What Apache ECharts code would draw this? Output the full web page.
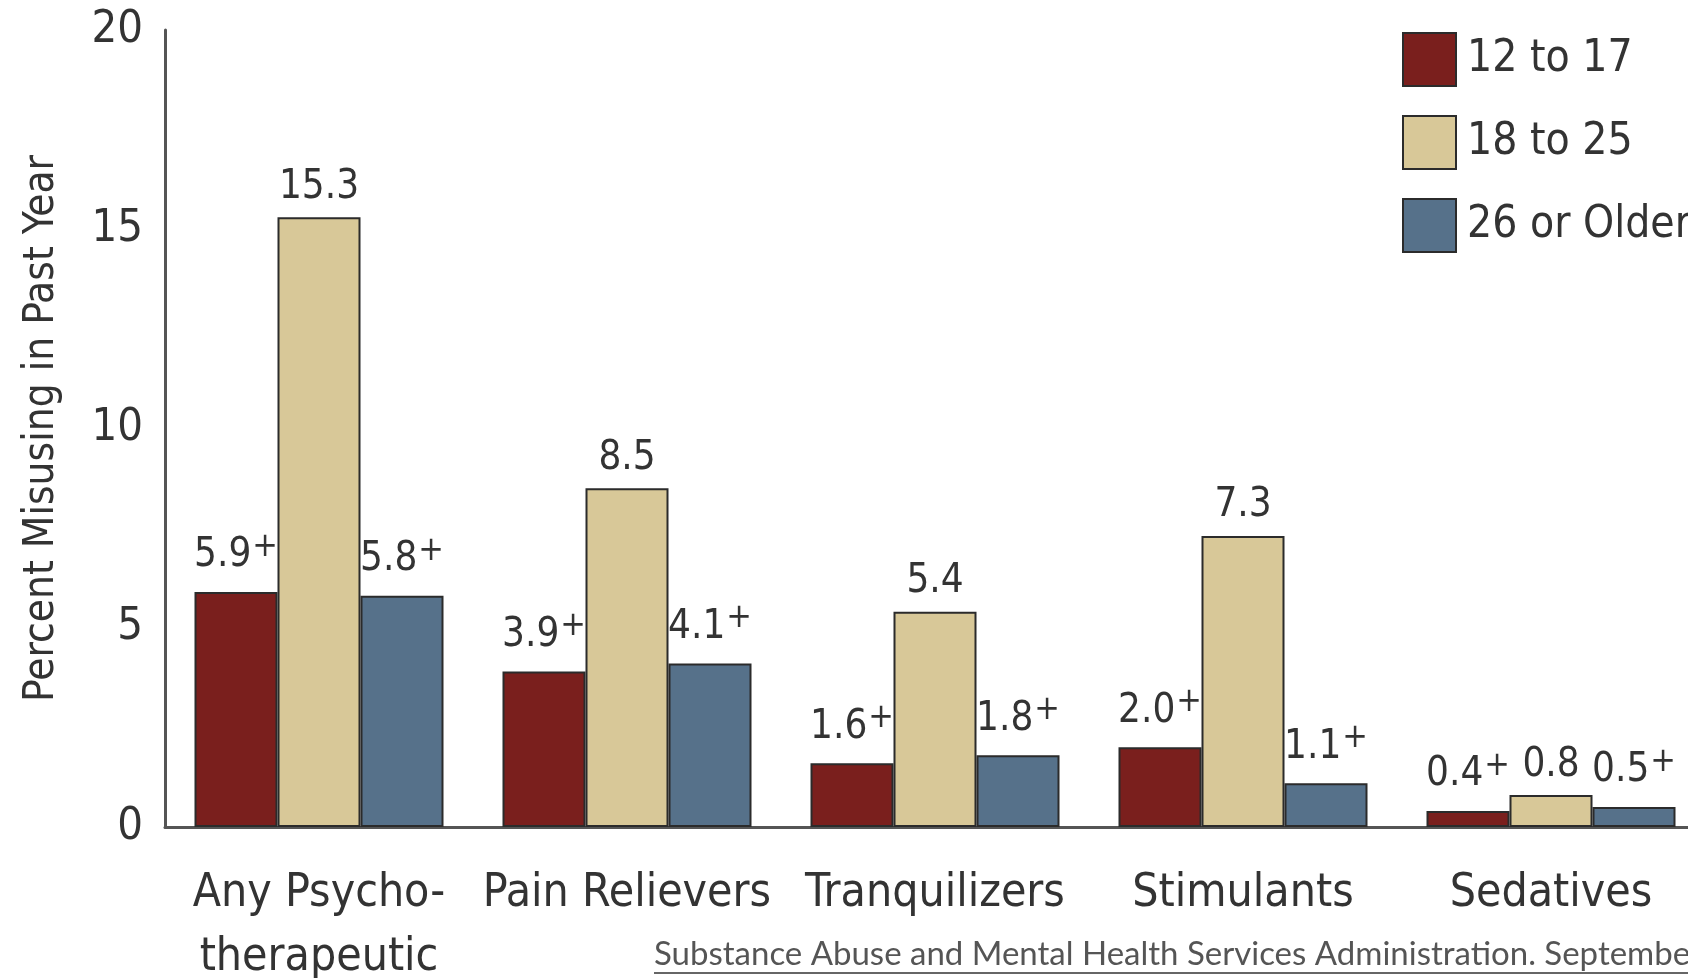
<!DOCTYPE html>
<html>
<head>
<meta charset="utf-8">
<script src="https://cdn.jsdelivr.net/npm/echarts@6/dist/echarts.min.js"></script>
<style>
  html, body { margin: 0; padding: 0; background: #fff; }
  #chart { width: 1688px; height: 978px; }
</style>
</head>
<body>
<div id="chart"></div>
<script>
var categories = ['Any Psycho-\ntherapeutic', 'Pain Relievers', 'Tranquilizers', 'Stimulants', 'Sedatives']
var seriesNames = ['12 to 17', '18 to 25', '26 or Older']
var age12to17 = [5.9, 3.9, 1.6, 2.0, 0.4]
var age18to25 = [15.3, 8.5, 5.4, 7.3, 0.8]
var age26plus = [5.8, 4.1, 1.8, 1.1, 0.5]
// "+" = significantly different from 18 to 25
var plusMark = [true, false, true]
var yTicks = [0, 5, 10, 15, 20]

var colors = ['#7a1f1d', '#d8c898', '#56718a']
var FONT = '"DejaVu Sans Condensed", "Liberation Sans Narrow", sans-serif'

function makeSeries(name, data, idx) {
    return {
        name: name,
        type: 'bar',
        data: data,
        barWidth: 83,
        barGap: '0%',
        itemStyle: {
            color: colors[idx],
            borderColor: '#2b2b2b',
            borderWidth: 2
        },
        label: {
            show: true,
            position: 'top',
            distance: 10,
            formatter: function (p) {
                var s = '{v|' + p.value.toFixed(1) + '}'
                if (plusMark[idx]) s += '{p|+}'
                return s
            },
            rich: {
                v: { fontFamily: FONT, fontSize: 40, color: '#333' },
                p: { fontFamily: FONT, fontSize: 34, color: '#333', padding: [0, 0, 18, 1] }
            }
        }
    }
}

var chart = echarts.init(document.getElementById('chart'))
chart.setOption({
    animation: false,
    backgroundColor: '#fff',
    legend: {
        orient: 'vertical',
        left: 1397,
        top: 27,
        itemWidth: 53,
        itemHeight: 53,
        itemGap: 28,
        icon: 'rect',
        textStyle: { fontFamily: FONT, fontSize: 44, color: '#333', padding: [0, 0, 0, 6] },
        data: seriesNames
    },
    grid: {
        left: 165,
        top: 30,
        bottom: 151,
        width: 1540,
        outerBoundsMode: 'none',
        containLabel: false
    },
    xAxis: {
        type: 'category',
        data: categories,
        axisLine: { lineStyle: { color: '#555', width: 3 } },
        axisTick: { show: false },
        axisLabel: {
            fontFamily: FONT,
            fontSize: 46,
            color: '#333',
            margin: 35,
            lineHeight: 64,
            interval: 0
        }
    },
    yAxis: {
        type: 'value',
        min: yTicks[0],
        max: yTicks[yTicks.length - 1],
        interval: 5,
        name: 'Percent Misusing in Past Year',
        nameLocation: 'middle',
        nameGap: 102,
        nameTextStyle: { fontFamily: FONT, fontSize: 42, color: '#333' },
        axisLine: { show: true, lineStyle: { color: '#555', width: 3 } },
        axisTick: { show: false },
        splitLine: { show: false },
        axisLabel: { fontFamily: FONT, fontSize: 45, color: '#333', margin: 22 }
    },
    graphic: [
        {
            type: 'text',
            left: 654,
            top: 938,
            style: {
                text: 'Substance Abuse and Mental Health Services Administration. September 2017',
                font: '33px Lato, "Liberation Sans", sans-serif',
                fill: '#555'
            }
        },
        {
            type: 'line',
            shape: { x1: 654, y1: 973, x2: 1688, y2: 973 },
            style: { stroke: '#666', lineWidth: 2 }
        }
    ],
    series: [
        makeSeries(seriesNames[0], age12to17, 0),
        makeSeries(seriesNames[1], age18to25, 1),
        makeSeries(seriesNames[2], age26plus, 2)
    ]
})
</script>
</body>
</html>
